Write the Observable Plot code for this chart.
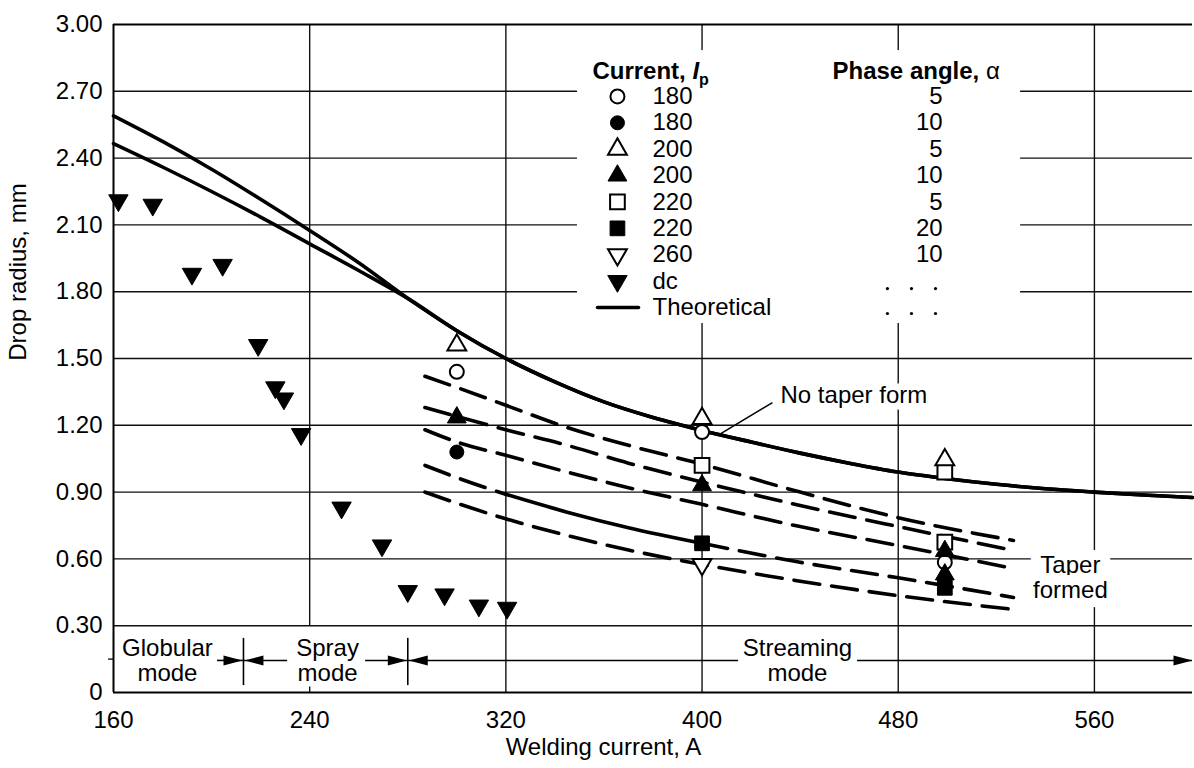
<!DOCTYPE html>
<html>
<head>
<meta charset="utf-8">
<script src="https://cdn.jsdelivr.net/npm/d3@7"></script>
<script src="https://cdn.jsdelivr.net/npm/@observablehq/plot@0.6"></script>
<style>
  html, body { margin: 0; padding: 0; background: #fff; }
  #chart svg { display: block; }
</style>
</head>
<body>
<div id="chart"></div>
<script>
// ---------------- data ----------------
const xTicks = [160, 240, 320, 400, 480, 560];
const yTicks = [0, 0.3, 0.6, 0.9, 1.2, 1.5, 1.8, 2.1, 2.4, 2.7, 3.0];
const gridYValues = [0.3, 0.6, 0.9, 1.2, 1.5, 1.8, 2.1, 2.4, 2.7];
const gridXValues = [320, 400, 480, 560];

// dc points (filled down triangles)
const dcCurrent = [162, 176, 192, 204.5, 219, 226, 229.5, 236.5, 253, 269.5, 280, 295, 309, 320.5];
const dcRadius  = [2.21, 2.19, 1.88, 1.92, 1.56, 1.37, 1.32, 1.16, 0.83, 0.66, 0.455, 0.44, 0.39, 0.38];

// pulsed current points
const openCircleX = [300, 400, 499];        const openCircleY = [1.44, 1.17, 0.585];   // Ip 180, a 5
const filledCircleX = [300];                const filledCircleY = [1.08];              // Ip 180, a 10
const openTriX = [300, 400, 499];           const openTriY = [1.56, 1.23, 1.045];      // Ip 200, a 5
const filledTriX = [300, 400, 499, 499];    const filledTriY = [1.235, 0.93, 0.635, 0.53]; // Ip 200, a 10
const openSquareX = [400, 499, 499];        const openSquareY = [1.02, 0.99, 0.675];   // Ip 220, a 5
const filledSquareX = [400, 499];           const filledSquareY = [0.67, 0.47];        // Ip 220, a 20
const openDownX = [400];                    const openDownY = [0.575];                 // Ip 260, a 10

// theoretical curves
const theoUpperX = [160, 180, 200, 220, 240, 260];
const theoUpperY = [2.59, 2.475, 2.35, 2.215, 2.075, 1.93];
const theoLowerX = [160, 180, 200, 220, 240, 260];
const theoLowerY = [2.465, 2.36, 2.25, 2.135, 2.015, 1.895];
const theoX = [280, 300, 320, 340, 360, 380, 400, 420, 440, 460, 480, 500, 520, 540, 560, 580, 600];
const theoY = [1.77, 1.625, 1.50, 1.395, 1.305, 1.235, 1.177, 1.125, 1.075, 1.03, 0.99, 0.96, 0.935, 0.915, 0.90, 0.887, 0.876];

// taper-formed curves
const taperX  = [287, 300, 320, 345, 370, 400, 440, 480, 527];
const taper1Y = [1.42, 1.37, 1.29, 1.19, 1.11, 1.025, 0.90, 0.785, 0.683];
const taper2Y = [1.28, 1.24, 1.18, 1.11, 1.03, 0.945, 0.84, 0.745, 0.638];
const taper3Y = [1.18, 1.125, 1.065, 0.99, 0.92, 0.845, 0.745, 0.66, 0.557];
const taper4Y = [1.02, 0.965, 0.89, 0.81, 0.74, 0.67, 0.585, 0.515, 0.427];
const taper5Y = [0.90, 0.85, 0.78, 0.705, 0.64, 0.575, 0.50, 0.435, 0.373];

// legend
const legendCurrent = ["180", "180", "200", "200", "220", "220", "260", "dc", "Theoretical"];
const legendPhase = ["5", "10", "5", "10", "5", "20", "10"];

// transfer modes
const modeNames = ["Globular", "Spray", "Streaming"];
const modeBoundaries = [213, 280];

// ---------------- styles / layout ----------------
const FONT = "'Liberation Sans', Arial, Helvetica, sans-serif";
const FS = 24;
const styles = {
  openCircle:   {symbol: "circle",   fill: "white", r: 7},
  filledCircle: {symbol: "circle",   fill: "black", r: 7},
  openTri:      {symbol: "triangle", fill: "white", r: 7},
  filledTri:    {symbol: "triangle", fill: "black", r: 7},
  openSquare:   {symbol: "square",   fill: "white", r: 8.3},
  filledSquare: {symbol: "square",   fill: "black", r: 8.3},
  openDown:     {symbol: "triangle", fill: "white", r: 7, rotate: 180},
  dc:           {symbol: "triangle", fill: "black", r: 7.2, rotate: 180}
};
const legendOrder = ["openCircle", "filledCircle", "openTri", "filledTri", "openSquare", "filledSquare", "openDown", "dc"];

const pts = (xs, ys) => xs.map((x, i) => ({x, y: ys[i]}));

function markers(xs, ys, st) {
  return Plot.dot(pts(xs, ys), {
    x: "x", y: "y", symbol: st.symbol, r: st.r, fill: st.fill,
    stroke: "black", strokeWidth: st.fill === "white" ? 2 : 1, rotate: st.rotate || 0
  });
}

const arrowHead = {
  draw(context) {
    const L = 19, W = 10;
    context.moveTo(0, 0);
    context.lineTo(-L, -W / 2);
    context.lineTo(-L, W / 2);
    context.closePath();
  }
};

const LINE = {stroke: "black", strokeWidth: 3.6, curve: "monotone-x"};
const DASH = {...LINE, strokeDasharray: "26,12"};
const GRID = {stroke: "#111", strokeWidth: 1.4};

// legend layout (data units)
const LG = {x1: 349.2, x2: 529.9, y1: 1.657, y2: 2.883, headY: 2.789, curX: 355.3, phaseX: 453.2,
            markerX: 365.5, labelX: 379.8, valueX: 498.1, row0: 2.677, step: 0.1185};
const rowY = i => LG.row0 - i * LG.step;

const modeY = 0.144;
const txt = (data, opts) => Plot.text(data, {x: "x", y: "y", text: "t", fontSize: FS, fill: "black", ...opts});

const marks = [
  // grid
  Plot.ruleY(gridYValues, GRID),
  Plot.ruleX(gridXValues, GRID),
  Plot.ruleX([240], {...GRID, y1: 0.3, y2: 3}),
  Plot.ruleX([240], {...GRID, y1: 0, y2: 0.025}),
  Plot.ruleY([0.15], {...GRID, x1: 158, x2: 160}),

  // legend background
  Plot.rect([LG], {x1: "x1", x2: "x2", y1: "y1", y2: "y2", fill: "white"}),

  // frame
  Plot.ruleY([0, 3], {stroke: "black", strokeWidth: 2}),
  Plot.ruleX([160], {stroke: "black", strokeWidth: 2}),

  // taper curves
  Plot.line(pts(taperX, taper1Y), {x: "x", y: "y", ...DASH}),
  Plot.line(pts(taperX, taper2Y), {x: "x", y: "y", ...DASH}),
  Plot.line(pts(taperX, taper3Y), {x: "x", y: "y", ...DASH}),
  Plot.line(pts(taperX.slice(0, 3), taper4Y.slice(0, 3)), {x: "x", y: "y", ...DASH}),
  Plot.line(pts(taperX.slice(2, 6), taper4Y.slice(2, 6)), {x: "x", y: "y", ...LINE}),
  Plot.line(pts(taperX.slice(5), taper4Y.slice(5)), {x: "x", y: "y", ...DASH}),
  Plot.line(pts(taperX, taper5Y), {x: "x", y: "y", ...DASH}),

  // theoretical curves
  Plot.line(pts(theoUpperX.concat(theoX), theoUpperY.concat(theoY)), {x: "x", y: "y", ...LINE}),
  Plot.line(pts(theoLowerX.concat(theoX), theoLowerY.concat(theoY)), {x: "x", y: "y", ...LINE}),

  // data markers
  markers(dcCurrent, dcRadius, styles.dc),
  markers(openSquareX, openSquareY, styles.openSquare),
  markers(filledSquareX, filledSquareY, styles.filledSquare),
  markers(openCircleX, openCircleY, styles.openCircle),
  markers(filledCircleX, filledCircleY, styles.filledCircle),
  markers(openDownX, openDownY, styles.openDown),
  markers(filledTriX, filledTriY, styles.filledTri),
  markers(openTriX, openTriY, styles.openTri),

  // annotations
  Plot.link([{x1: 428.7, y1: 1.302, x2: 406.3, y2: 1.154}], {x1: "x1", y1: "y1", x2: "x2", y2: "y2", stroke: "black", strokeWidth: 1.5}),
  txt([{x: 432, y: 1.334, t: "No taper form"}], {textAnchor: "start", stroke: "white", strokeWidth: 14, paintOrder: "stroke"}),
  txt([{x: 550.2, y: 0.570, t: "Taper"}, {x: 550.2, y: 0.458, t: "formed"}], {stroke: "white", strokeWidth: 20, paintOrder: "stroke"}),

  // mode row
  Plot.ruleY([modeY], {x1: 202.4, x2: modeBoundaries[0], stroke: "black", strokeWidth: 1.6}),
  Plot.ruleY([modeY], {x1: modeBoundaries[0], x2: 231, stroke: "black", strokeWidth: 1.6}),
  Plot.ruleY([modeY], {x1: 262.8, x2: modeBoundaries[1], stroke: "black", strokeWidth: 1.6}),
  Plot.ruleY([modeY], {x1: modeBoundaries[1], x2: 414.9, stroke: "black", strokeWidth: 1.6}),
  Plot.ruleY([modeY], {x1: 463.4, x2: 600, stroke: "black", strokeWidth: 1.6}),
  Plot.ruleX(modeBoundaries, {y1: 0.031, y2: 0.243, stroke: "black", strokeWidth: 1.6}),
  Plot.dot([{x: modeBoundaries[0] - 0.4, y: modeY}, {x: modeBoundaries[1] - 0.4, y: modeY}, {x: 600, y: modeY}],
           {x: "x", y: "y", symbol: arrowHead, fill: "black", stroke: "none"}),
  Plot.dot([{x: modeBoundaries[0] + 0.4, y: modeY}, {x: modeBoundaries[1] + 0.4, y: modeY}],
           {x: "x", y: "y", symbol: arrowHead, fill: "black", stroke: "none", rotate: 180}),
  txt([{x: 182.0, y: 0.198, t: modeNames[0]}, {x: 182.0, y: 0.085, t: "mode"},
       {x: 247.3, y: 0.198, t: modeNames[1]}, {x: 247.3, y: 0.085, t: "mode"},
       {x: 438.9, y: 0.198, t: modeNames[2]}, {x: 438.9, y: 0.085, t: "mode"}], {}),

  // legend content
  txt([{x: LG.curX, y: LG.headY, t: "Current, Ip"}], {textAnchor: "start", fontWeight: "bold"}),
  txt([{x: LG.phaseX, y: LG.headY, t: "Phase angle, α"}], {textAnchor: "start", fontWeight: "bold"}),
  ...legendOrder.map((k, i) => markers([LG.markerX], [rowY(i)], styles[k])),
  Plot.line([{x: 357.4, y: rowY(8)}, {x: 374.1, y: rowY(8)}], {x: "x", y: "y", stroke: "black", strokeWidth: 3.6}),
  txt(legendCurrent.map((t, i) => ({x: LG.labelX, y: rowY(i), t})), {textAnchor: "start"}),
  txt(legendPhase.map((t, i) => ({x: LG.valueX, y: rowY(i), t})), {textAnchor: "end"}),
  Plot.dot([475.6, 485.4, 495.2].flatMap(x => [{x, y: 1.814}, {x, y: 1.702}]), {x: "x", y: "y", r: 1.6, fill: "black"}),

  // axes
  Plot.axisX(xTicks, {tickSize: 0, tickPadding: 18, fontSize: FS, label: null}),
  Plot.axisY(yTicks, {tickSize: 0, tickPadding: 11, fontSize: FS, label: null,
                      tickFormat: d => d === 0 ? "0" : d.toFixed(2)}),
  Plot.text([{x: 359.8, t: "Welding current, A"}], {x: "x", text: "t", frameAnchor: "bottom", dy: 62, fontSize: FS, fill: "black"}),
  Plot.text([{y: 1.49, t: "Drop radius, mm"}], {y: "y", text: "t", frameAnchor: "left", dx: -95, rotate: -90, fontSize: FS, fill: "black"})
];

const chart = Plot.plot({
  width: 1194,
  height: 768,
  marginLeft: 113,
  marginRight: 2,
  marginTop: 24,
  marginBottom: 76,
  style: {fontFamily: FONT, fontSize: FS + "px", background: "white", color: "black", overflow: "visible"},
  x: {domain: [160, 600]},
  y: {domain: [0, 3]},
  marks
});

// rich text for legend headers
d3.select(chart).selectAll("text").each(function () {
  const el = d3.select(this);
  if (this.textContent === "Current, Ip") {
    el.text(null);
    el.append("tspan").text("Current, ");
    el.append("tspan").attr("font-style", "italic").text("I");
    el.append("tspan").attr("font-size", 16).attr("dy", "0.35em").text("p");
  } else if (this.textContent === "Phase angle, α") {
    el.text(null);
    el.append("tspan").text("Phase angle, ");
    el.append("tspan").attr("font-weight", "normal").text("α");
  }
});

document.getElementById("chart").appendChild(chart);
</script>
</body>
</html>
